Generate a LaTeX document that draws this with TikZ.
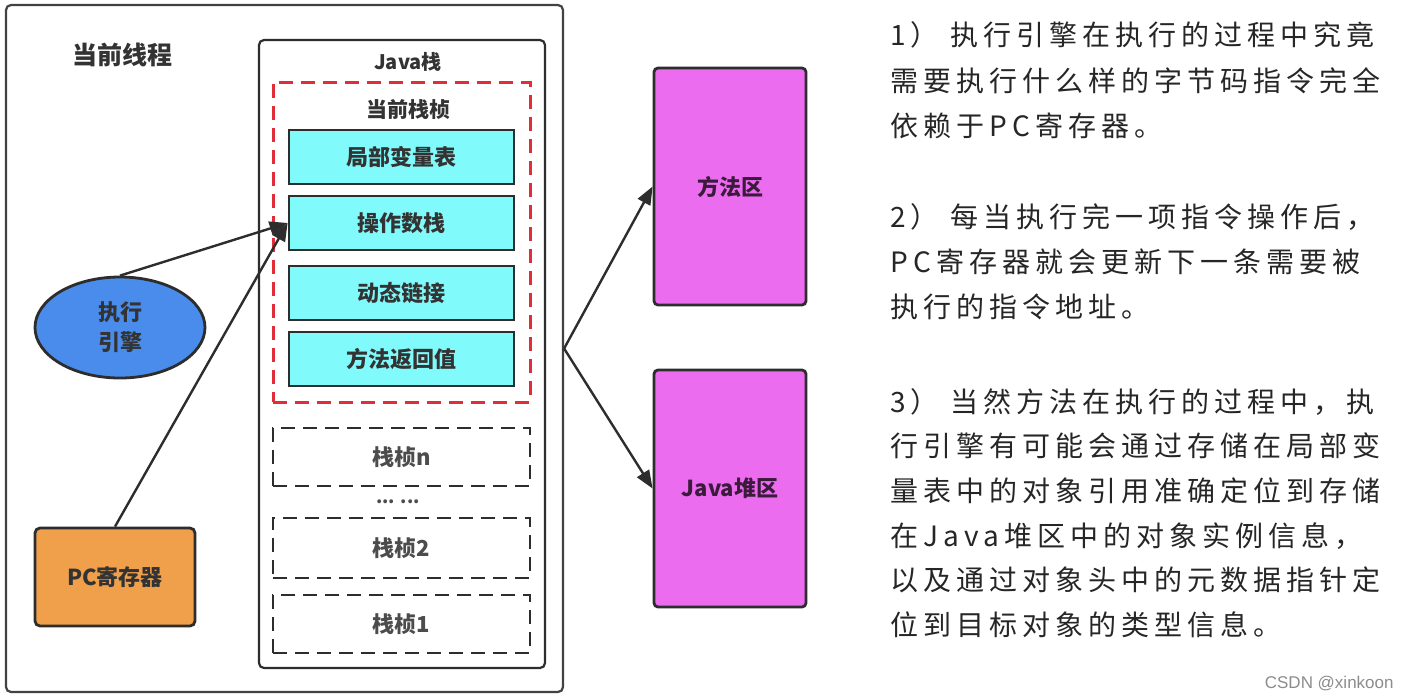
\documentclass[tikz,border=0pt]{standalone}
\usepackage{fontspec}
\setmainfont{Noto Sans CJK SC}
\newfontfamily\cjkr[LetterSpace=18]{Noto Sans CJK SC}
\newfontfamily\wmfont{Liberation Sans}
\usetikzlibrary{shapes.geometric,arrows.meta}
\definecolor{cyanf}{RGB}{128,250,250}
\definecolor{bluef}{RGB}{74,140,235}
\definecolor{orangef}{RGB}{240,160,75}
\definecolor{magf}{RGB}{236,108,240}
\definecolor{redd}{RGB}{225,45,55}
\definecolor{edge}{RGB}{45,45,45}
\tikzset{
  lbl/.style={font=\fontsize{11pt}{14pt}\selectfont\bfseries, text=black!80},
  outerbox/.style={draw=edge!90, line width=1.1pt, rounded corners=2.5pt, fill=none},
  cyanbox/.style={draw=edge, line width=1.4pt, fill=cyanf, minimum width=112.5pt, minimum height=27pt, lbl},
  graybox/.style={draw=edge, line width=1.4pt, dash pattern=on 7pt off 4pt, minimum width=128.5pt, lbl, text=black!70},
  magbox/.style={draw=edge, line width=1.4pt, fill=magf, rounded corners=2pt, minimum width=76pt, minimum height=118.5pt, lbl, text=black!75!magf},
  arr/.style={draw=edge, line width=1.2pt, -{Triangle[length=9pt,width=7pt]}},
  rtext/.style={anchor=west, inner sep=0pt, font=\cjkr\fontsize{14pt}{16pt}\selectfont, text=black!85}
}
\begin{document}
\begin{tikzpicture}[x=0.5pt,y=-0.5pt]
\useasboundingbox[fill=white] (0,0) rectangle (1402,698);
% outer thread box
\node[outerbox, minimum width=278.5pt, minimum height=343.5pt] (thread) at (284.5,348.5) {};
\node[lbl, font=\fontsize{12.5pt}{15pt}\selectfont\bfseries] (threadlbl) at (122,55) {当前线程};
% java stack box
\node[outerbox, draw=edge, minimum width=143pt, minimum height=314pt] (jstack) at (402,354) {};
\node[lbl, font=\fontsize{10pt}{12pt}\selectfont\bfseries] (jstacklbl) at (408,62) {Java栈};
% current frame
\node[draw=redd, line width=1.5pt, dash pattern=on 7pt off 4pt, minimum width=128.5pt, minimum height=160pt] (cur) at (401.5,242) {};
\node[lbl, font=\fontsize{10.5pt}{12pt}\selectfont\bfseries] (curlbl) at (408,110) {当前栈桢};
\node[cyanbox] (lv) at (401.5,157) {局部变量表};
\node[cyanbox] (ops) at (401.5,223) {操作数栈};
\node[cyanbox] (dyn) at (401.5,293) {动态链接};
\node[cyanbox] (ret) at (401.5,359) {方法返回值};
% other frames
\node[graybox, minimum height=29pt] (fn) at (401.5,457) {栈桢n};
\node[lbl, font=\fontsize{9pt}{10pt}\selectfont\bfseries, text=black!70] (dots) at (398,502) {... ...};
\node[graybox, minimum height=30pt] (f2) at (401.5,548) {栈桢2};
\node[graybox, minimum height=29pt] (f1) at (401.5,624) {栈桢1};
% engine and pc
\node[ellipse, draw=edge, line width=1.4pt, fill=bluef, minimum width=85pt, minimum height=50.5pt, lbl, align=center, font=\fontsize{11pt}{15pt}\selectfont\bfseries] (engine) at (120,327.5) {执行\\引擎};
\node[draw=edge, line width=1.4pt, fill=orangef, rounded corners=2.5pt, minimum width=80pt, minimum height=49pt, lbl] (pc) at (115,577) {PC寄存器};
% areas
\node[magbox] (method) at (730,186.5) {方法区};
\node[magbox] (heap) at (730,488.5) {Java堆区};
% connectors
\draw[arr] (engine.north) -- (ops.west);
\draw[arr] (pc.north) -- (ops.west);
\draw[arr] (thread.east) -- (method.west);
\draw[arr] (thread.east) -- (heap.west);
% right text
\node[rtext] (t11) at (890,35) {1） 执行引擎在执行的过程中究竟};
\node[rtext] (t12) at (890,81) {需要执行什么样的字节码指令完全};
\node[rtext] (t13) at (890,126) {依赖于PC寄存器。};
\node[rtext] (t21) at (890,217) {2） 每当执行完一项指令操作后，};
\node[rtext] (t22) at (890,262) {PC寄存器就会更新下一条需要被};
\node[rtext] (t23) at (890,307) {执行的指令地址。};
\node[rtext] (t31) at (890,402) {3） 当然方法在执行的过程中，执};
\node[rtext] (t32) at (890,446) {行引擎有可能会通过存储在局部变};
\node[rtext] (t33) at (890,491) {量表中的对象引用准确定位到存储};
\node[rtext] (t34) at (890,536) {在Java堆区中的对象实例信息，};
\node[rtext] (t35) at (890,580) {以及通过对象头中的元数据指针定};
\node[rtext] (t36) at (890,625) {位到目标对象的类型信息。};
\node[anchor=east, inner sep=0pt, font=\wmfont\fontsize{8.5pt}{10pt}\selectfont, text=black!45] (wm) at (1394,683) {CSDN @xinkoon};
\end{tikzpicture}
\end{document}
